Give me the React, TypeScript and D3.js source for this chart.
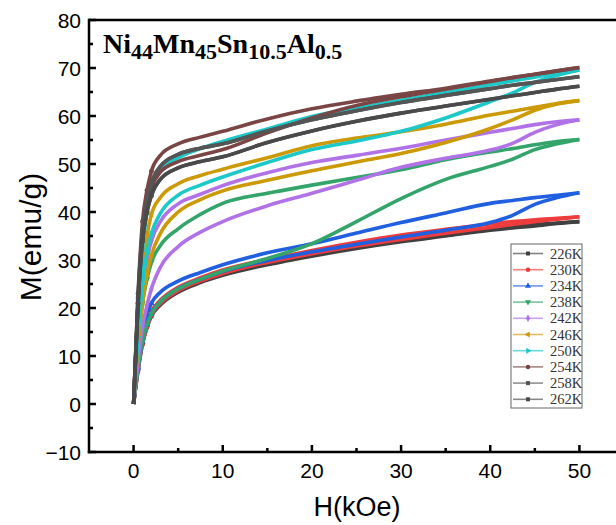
import React from "react";
import * as d3 from "d3";

// field grid (kOe), shared by every branch
const fieldH = [0, 0.5, 1, 1.5, 2, 3, 5, 7.5, 10, 15, 20, 25, 30, 35, 40, 42.5, 45, 47.5, 50];

const temps = ["226K", "230K", "234K", "238K", "242K", "246K", "250K", "254K", "258K", "262K"];
const colors = ["#404040", "#ee3b3b", "#1f5fe0", "#33a56a", "#b072e6", "#cc9a06", "#1cc8c8", "#7a4545", "#555555", "#4a4a4a"];

// M (emu/g), field increasing
const m226Up = [0, 7, 12.5, 16, 18.3, 20.6, 23.3, 25.3, 26.8, 29, 30.8, 32.4, 33.8, 35, 36.2, 36.7, 37.1, 37.6, 38];
const m230Up = [0, 7, 12.5, 16, 18.5, 20.9, 23.6, 25.6, 27.2, 29.5, 31.3, 32.9, 34.3, 35.6, 36.8, 37.4, 38, 38.5, 39];
const m234Up = [0, 7.5, 13, 16.5, 18.8, 21.3, 24, 26, 27.6, 29.9, 31.7, 33.3, 34.8, 36.2, 37.8, 39.3, 41.6, 43, 44];
const m238Up = [0, 7.5, 13, 16.5, 18.8, 21.3, 24, 26, 27.7, 30.3, 33.4, 38, 42.8, 46.8, 49.5, 51, 53, 54.2, 55.1];
const m242Up = [0, 9, 16, 20.5, 24, 28.5, 32.8, 35.8, 38, 41.3, 43.9, 46.6, 49.3, 51.2, 52.9, 54.3, 56.6, 58.2, 59.2];
const m246Up = [0, 12, 21, 27, 31, 35.5, 40, 42.6, 44.4, 46.6, 48.6, 50.4, 52.2, 54.5, 57.4, 59.2, 61.2, 62.5, 63.2];
const m250Up = [0, 14, 25, 31.5, 35.5, 39.7, 43.5, 45.6, 47.3, 50.3, 53, 54.8, 56.8, 59.6, 63, 64.8, 67, 68.5, 69.6];
const m254Up = [0, 21, 35, 41.5, 45, 48.3, 50.5, 51.8, 53, 56.5, 59.6, 62.2, 64, 65.6, 67.2, 68, 68.7, 69.4, 70.1];
const m258Up = [0, 22, 36, 42, 46, 49.5, 52, 53.3, 54.2, 56.9, 59.2, 61.1, 62.8, 64.3, 65.7, 66.4, 67, 67.6, 68.2];
const m262Up = [0, 21, 34, 40, 43.5, 46.8, 49.2, 50.5, 51.5, 54.5, 56.9, 58.9, 60.6, 62.1, 63.5, 64.2, 64.9, 65.6, 66.2];

// M (emu/g), field decreasing (listed on the same grid, low to high)
const m226Down = [0, 7.5, 13, 16.5, 18.8, 21, 23.7, 25.7, 27.2, 29.4, 31.2, 32.8, 34.2, 35.4, 36.5, 37, 37.4, 37.7, 38];
const m230Down = [0, 8, 13.5, 17, 19.3, 21.6, 24.3, 26.3, 27.9, 30.1, 32, 33.7, 35.2, 36.4, 37.5, 38, 38.4, 38.7, 39];
const m234Down = [0, 9, 15, 18.6, 21, 23.3, 25.6, 27.4, 29, 31.5, 33.4, 35.6, 37.8, 39.8, 41.8, 42.4, 43, 43.5, 44];
const m238Down = [0, 12, 21, 26, 29.5, 33, 36.5, 39.5, 41.8, 43.9, 45.6, 47.2, 48.8, 50.9, 52.5, 53.2, 54, 54.7, 55.1];
const m242Down = [0, 14, 24, 30, 34, 38, 41.7, 43.7, 45.5, 48.2, 50.3, 51.8, 53.3, 55, 56.6, 57.4, 58.2, 58.8, 59.2];
const m246Down = [0, 16, 28, 35, 39.5, 43, 45.9, 47.6, 48.9, 51.3, 53.8, 55.4, 56.7, 58.3, 60.2, 61, 61.8, 62.6, 63.2];
const m250Down = [0, 18, 32, 40, 45, 48.5, 51.3, 53.2, 54.7, 57.3, 59.9, 61.6, 63.3, 64.9, 66.5, 67.3, 68.1, 68.9, 69.6];
const m254Down = [0, 23, 38, 44.5, 48.5, 51.8, 54.2, 55.6, 56.8, 59.4, 61.5, 63.1, 64.5, 65.8, 67.3, 68, 68.7, 69.4, 70.1];
const m258Down = m258Up;
const m262Down = m262Up;

const upBranches = [m226Up, m230Up, m234Up, m238Up, m242Up, m246Up, m250Up, m254Up, m258Up, m262Up];
const downBranches = [m226Down, m230Down, m234Down, m238Down, m242Down, m246Down, m250Down, m254Down, m258Down, m262Down];

const xTicks = [0, 10, 20, 30, 40, 50];
const xMinor = [5, 15, 25, 35, 45];
const yTicks = [-10, 0, 10, 20, 30, 40, 50, 60, 70, 80];
const yMinor = [-5, 5, 15, 25, 35, 45, 55, 65, 75];

const symbols = [
  { type: d3.symbolSquare, rot: 0 },
  { type: d3.symbolCircle, rot: 0 },
  { type: d3.symbolTriangle, rot: 0 },
  { type: d3.symbolTriangle, rot: 180 },
  { type: d3.symbolDiamond, rot: 0 },
  { type: d3.symbolTriangle, rot: -90 },
  { type: d3.symbolTriangle, rot: 90 },
  { type: d3.symbolCircle, rot: 0 },
  { type: d3.symbolSquare, rot: 0 },
  { type: d3.symbolSquare, rot: 0 },
];

const width = 616;
const height = 525;

const App = () => {
  const x = d3.scaleLinear().domain([-5, 55]).range([89, 624]);
  const y = d3.scaleLinear().domain([-10, 80]).range([452, 20]);

  const line = d3
    .line<number>()
    .x((d, j) => x(fieldH[j]))
    .y((d) => y(d))
    .curve(d3.curveMonotoneX);

  const axisFont = "'Liberation Sans', Arial, sans-serif";
  const serif = "'Liberation Serif', 'Times New Roman', serif";
  const leg = { x: 511, y: 244, w: 71, h: 164, row: 16.2 };

  return (
    <div style={{ position: "absolute", left: 0, top: 0 }}>
      <svg width={width} height={height} style={{ display: "block", background: "#fff" }}>
        {/* hysteresis branches */}
        {temps.map((t, i) => (
          <g key={t}>
            {[upBranches[i], downBranches[i]].map((br, b) => (
              <g key={b}>
                <path d={line(br) || ""} fill="none" stroke={colors[i]} strokeWidth={3.6} strokeLinejoin="round" />
                {br.map((m, j) =>
                  fieldH[j] > 0 && fieldH[j] <= 2 ? (
                    <path
                      key={j}
                      transform={`translate(${x(fieldH[j])},${y(m)}) rotate(${symbols[i].rot})`}
                      d={d3.symbol(symbols[i].type, 18)() || ""}
                      fill={colors[i]}
                    />
                  ) : null
                )}
              </g>
            ))}
          </g>
        ))}

        {/* axes frame */}
        <line x1={89} x2={width} y1={20} y2={20} stroke="#000" strokeWidth={2.5} />
        <line x1={89} x2={89} y1={18.75} y2={453.25} stroke="#000" strokeWidth={2.5} />
        <line x1={87.75} x2={width} y1={452} y2={452} stroke="#000" strokeWidth={2.5} />

        {xTicks.map((t) => (
          <g key={"xt" + t}>
            <line x1={x(t)} x2={x(t)} y1={452} y2={445} stroke="#000" strokeWidth={2.5} />
            <text x={x(t)} y={478} textAnchor="middle" fontSize={21} fontFamily={axisFont}>
              {d3.format("d")(t)}
            </text>
          </g>
        ))}
        {xMinor.map((t) => (
          <line key={"xm" + t} x1={x(t)} x2={x(t)} y1={452} y2={448} stroke="#000" strokeWidth={2.5} />
        ))}
        {yTicks.map((t) => (
          <g key={"yt" + t}>
            <line x1={89} x2={96} y1={y(t)} y2={y(t)} stroke="#000" strokeWidth={2.5} />
            <text x={81} y={y(t)} dy="0.36em" textAnchor="end" fontSize={21} fontFamily={axisFont}>
              {d3.format("d")(t)}
            </text>
          </g>
        ))}
        {yMinor.map((t) => (
          <line key={"ym" + t} x1={89} x2={93} y1={y(t)} y2={y(t)} stroke="#000" strokeWidth={2.5} />
        ))}

        {/* axis titles */}
        <text x={357} y={516} textAnchor="middle" fontSize={27} fontFamily={axisFont}>
          H(kOe)
        </text>
        <text transform="translate(41,237) rotate(-90)" textAnchor="middle" fontSize={30} fontFamily={axisFont}>
          M(emu/g)
        </text>

        {/* sample label */}
        <text x={103} y={53} fontSize={28} fontWeight="bold" fontFamily={serif}>
          Ni
          <tspan fontSize={22} dy={6}>44</tspan>
          <tspan dy={-6}>Mn</tspan>
          <tspan fontSize={22} dy={6}>45</tspan>
          <tspan dy={-6}>Sn</tspan>
          <tspan fontSize={22} dy={6}>10.5</tspan>
          <tspan dy={-6}>Al</tspan>
          <tspan fontSize={22} dy={6}>0.5</tspan>
        </text>

        {/* legend */}
        <rect x={leg.x} y={leg.y} width={leg.w} height={leg.h} fill="#fff" stroke="#666" strokeWidth={1} />
        {temps.map((t, i) => {
          const cy = leg.y + 9.5 + i * leg.row;
          return (
            <g key={"lg" + t}>
              <line x1={leg.x + 2} x2={leg.x + 32} y1={cy} y2={cy} stroke={colors[i]} strokeWidth={1.6} opacity={0.65} />
              <path
                transform={`translate(${leg.x + 17},${cy}) rotate(${symbols[i].rot})`}
                d={d3.symbol(symbols[i].type, 16)() || ""}
                fill={colors[i]}
              />
              <text x={leg.x + 39} y={cy} dy="0.35em" fontSize={14.5} fill="#333" fontFamily={serif}>
                {t}
              </text>
            </g>
          );
        })}
      </svg>
    </div>
  );
};

export default App;
